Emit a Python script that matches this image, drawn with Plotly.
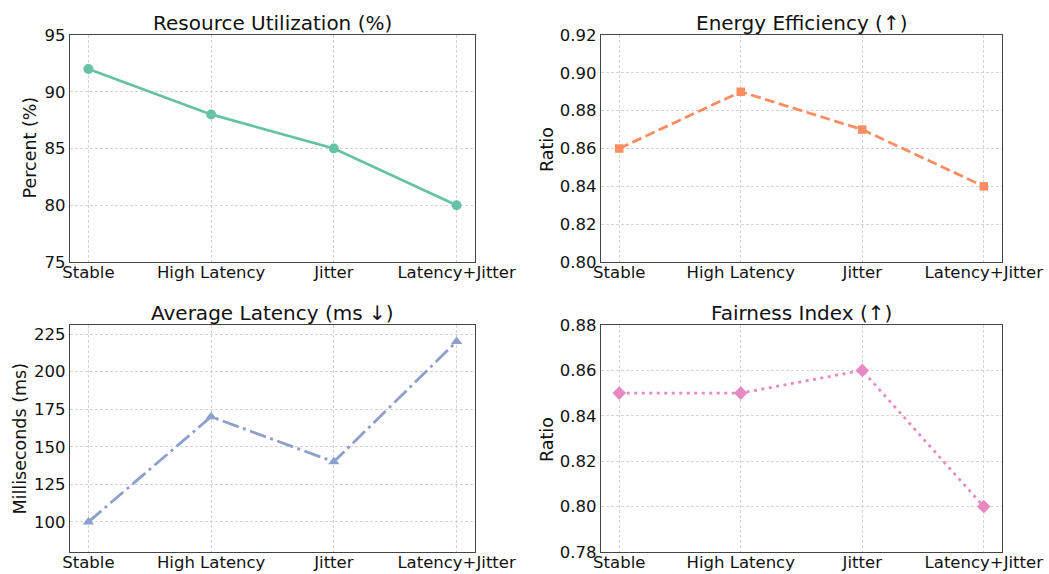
import plotly.graph_objects as go

categories = ["Stable", "High Latency", "Jitter", "Latency+Jitter"]
resource_util = [92, 88, 85, 80]
energy_eff = [0.86, 0.89, 0.87, 0.84]
avg_latency = [100, 170, 140, 220]
fairness = [0.85, 0.85, 0.86, 0.80]

W, H = 1049, 574
FONT = "DejaVu Sans"

panels = [
    dict(title="Resource Utilization (%)", ylabel="Percent (%)", y=resource_util,
         color="#66c2a5", dash="solid", symbol="circle", msize=10,
         px=(70, 475), py=(35, 262), yr=[75, 95], dtick=5, fmt="d",
         lab_x=29.5, lab_y=148),
    dict(title="Energy Efficiency (↑)", ylabel="Ratio", y=energy_eff,
         color="#fc8d62", dash="10px,4.5px", symbol="square", msize=8.5,
         px=(601, 1002), py=(35, 262), yr=[0.80, 0.92], dtick=0.02, fmt=".2f",
         lab_x=547, lab_y=150),
    dict(title="Average Latency (ms ↓)", ylabel="Milliseconds (ms)", y=avg_latency,
         color="#8da0cb", dash="17px,4.5px,3px,4.5px", symbol="triangle-up", msize=10,
         px=(70, 475), py=(325, 552), yr=[80, 231], dtick=25, fmt="d",
         lab_x=19.5, lab_y=439),
    dict(title="Fairness Index (↑)", ylabel="Ratio", y=fairness,
         color="#e78ac3", dash="3px,4.5px", symbol="diamond", msize=10.5,
         px=(601, 1002), py=(325, 552), yr=[0.78, 0.88], dtick=0.02, fmt=".2f",
         lab_x=547, lab_y=440),
]

fig = go.Figure()
annotations = []
layout_axes = {}
for i, p in enumerate(panels, start=1):
    xa = "x" if i == 1 else f"x{i}"
    ya = "y" if i == 1 else f"y{i}"
    suffix = "" if i == 1 else str(i)
    fig.add_trace(go.Scatter(
        x=categories, y=p["y"], mode="lines+markers", xaxis=xa, yaxis=ya,
        line=dict(color=p["color"], width=2.8, dash=p["dash"]),
        marker=dict(symbol=p["symbol"], size=p["msize"], color=p["color"]),
        showlegend=False, cliponaxis=False))
    xdom = [p["px"][0] / W, p["px"][1] / W]
    ydom = [1 - p["py"][1] / H, 1 - p["py"][0] / H]
    common = dict(showline=True, mirror=True, linecolor="#444444", linewidth=1.3,
                  showgrid=True, gridcolor="#d4d4d4", gridwidth=0.8, griddash="3px,2px",
                  ticks="", zeroline=False, automargin=False,
                  tickfont=dict(family=FONT, size=16.5, color="#111111"))
    layout_axes["xaxis" + suffix] = dict(
        common, domain=xdom, anchor=ya, type="category",
        categoryorder="array", categoryarray=categories, range=[-0.15, 3.15],
        ticklabelstandoff=-5)
    layout_axes["yaxis" + suffix] = dict(
        common, domain=ydom, anchor=xa, range=p["yr"], dtick=p["dtick"],
        tick0=0, tickformat=p["fmt"])
    annotations.append(dict(
        text=p["title"], x=(p["px"][0] + p["px"][1]) / 2 / W, y=1 - (p["py"][0] + 2) / H,
        xref="paper", yref="paper", xanchor="center", yanchor="bottom", showarrow=False,
        font=dict(family=FONT, size=20, color="#111111")))
    annotations.append(dict(
        text=p["ylabel"], x=p["lab_x"] / W, y=1 - p["lab_y"] / H, textangle=-90,
        xref="paper", yref="paper", xanchor="center", yanchor="middle", showarrow=False,
        font=dict(family=FONT, size=17.5, color="#111111")))

fig.update_layout(
    width=W, height=H, margin=dict(l=0, r=0, t=0, b=0, autoexpand=False),
    paper_bgcolor="white", plot_bgcolor="white",
    annotations=annotations, font=dict(family=FONT), **layout_axes)

fig.write_html(
    "out.html",
    config={"displayModeBar": False},
    post_script="document.body.style.margin='0px';document.body.style.overflow='hidden';")
